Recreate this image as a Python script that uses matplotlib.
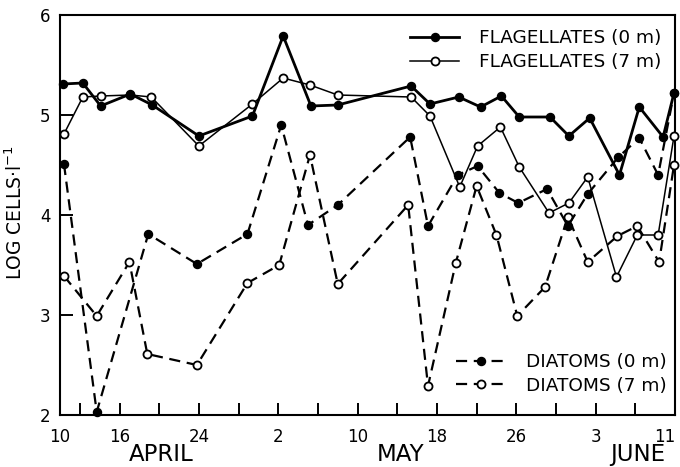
import matplotlib
matplotlib.use("Agg")
import matplotlib.pyplot as plt
from matplotlib.ticker import FixedLocator, FixedFormatter

plt.rcParams['font.family'] = ['DejaVu Sans']

# x = days after April 10
flag0_x = [0.3, 2.3, 4.1, 7.1, 9.3, 14.0, 19.4, 22.5, 25.3, 28.0, 35.4, 37.3, 40.2,
           42.4, 44.5, 46.3, 49.4, 51.3, 53.4, 56.4, 58.4, 60.8, 61.9]
flag0_y = [5.31, 5.32, 5.09, 5.21, 5.10, 4.79, 4.99, 5.79, 5.09, 5.10, 5.29, 5.11, 5.18,
           5.08, 5.19, 4.98, 4.98, 4.79, 4.97, 4.40, 5.08, 4.78, 5.22]

flag7_x = [0.4, 2.3, 4.1, 7.1, 9.2, 14.0, 19.4, 22.5, 25.2, 28.0, 35.4, 37.3, 40.3,
           42.1, 44.4, 46.3, 49.3, 51.3, 53.2, 56.1, 58.2, 60.3, 61.9]
flag7_y = [4.81, 5.18, 5.19, 5.20, 5.18, 4.69, 5.11, 5.37, 5.30, 5.20, 5.18, 4.99, 4.28,
           4.69, 4.88, 4.48, 4.02, 4.12, 4.38, 3.38, 3.80, 3.80, 4.79]

diat0_x = [0.4, 3.7, 8.9, 13.8, 18.9, 22.3, 25.0, 28.0, 35.3, 37.1, 40.1, 42.1, 44.3,
           46.2, 49.1, 51.2, 53.2, 56.3, 58.4, 60.3, 61.9]
diat0_y = [4.51, 2.03, 3.81, 3.51, 3.81, 4.90, 3.90, 4.10, 4.78, 3.89, 4.40, 4.49, 4.22,
           4.12, 4.26, 3.89, 4.21, 4.58, 4.77, 4.40, 5.22]

diat7_x = [0.4, 3.7, 7.0, 8.8, 13.8, 18.9, 22.1, 25.2, 28.0, 35.1, 37.1, 39.9, 42.0,
           44.0, 46.1, 48.9, 51.2, 53.2, 56.2, 58.2, 60.4, 61.9]
diat7_y = [3.39, 2.99, 3.53, 2.61, 2.50, 3.32, 3.50, 4.60, 3.31, 4.10, 2.29, 3.52, 4.29,
           3.80, 2.99, 3.28, 3.98, 3.53, 3.79, 3.89, 3.53, 4.50]

major_ticks = [0, 6, 14, 22, 30, 38, 46, 54, 62]
major_labels = ["10", "16", "24", "2", "10", "18", "26", "3", "11"]
minor_ticks = [2, 10, 18, 26, 34, 42, 50, 58]
months = ["APRIL", "MAY", "JUNE"]
month_pos = [10.2, 34.3, 58.2]
y_ticks = [2, 3, 4, 5, 6]

fig = plt.figure(figsize=(6.8, 4.67), dpi=100)
ax = fig.add_axes([60/680, 52/467, 615/680, 400/467])

ms = 5.8
l1, = ax.plot(flag0_x, flag0_y, '-', color='black', lw=2.0, marker='o', ms=ms,
              mfc='black', mec='black', label='FLAGELLATES (0 m)', clip_on=False, zorder=4)
l2, = ax.plot(flag7_x, flag7_y, '-', color='black', lw=1.1, marker='o', ms=ms,
              mfc='white', mec='black', mew=1.3, label='FLAGELLATES (7 m)', clip_on=False, zorder=3)
l3, = ax.plot(diat0_x, diat0_y, color='black', lw=1.6, ls=(0, (5, 3)), marker='o', ms=ms,
              mfc='black', mec='black', label='DIATOMS (0 m)', clip_on=False, zorder=4)
l4, = ax.plot(diat7_x, diat7_y, color='black', lw=1.6, ls=(0, (5, 3)), marker='o', ms=ms,
              mfc='white', mec='black', mew=1.3, label='DIATOMS (7 m)', clip_on=False, zorder=3)

ax.set_xlim(0, 62)
ax.set_ylim(2, 6)
ax.xaxis.set_major_locator(FixedLocator(major_ticks))
ax.xaxis.set_major_formatter(FixedFormatter(major_labels))
ax.xaxis.set_minor_locator(FixedLocator(minor_ticks))
ax.set_yticks(y_ticks)
ax.set_yticklabels([str(v) for v in y_ticks])

ax.tick_params(axis='x', which='both', direction='in', length=9, width=1.4,
               pad=9, labelsize=12)
ax.tick_params(axis='y', which='major', direction='in', length=9, width=1.4,
               pad=7, labelsize=12)
# keep the last date label inside the figure
ax.get_xticklabels()[-1].set_horizontalalignment('right')
for s in ax.spines.values():
    s.set_linewidth(1.5)

for name, pos in zip(months, month_pos):
    ax.text(pos, -0.098, name, transform=ax.get_xaxis_transform(), ha='center',
            va='center', fontsize=16.5)

ax.set_ylabel("LOG CELLS·l$^{-1}$", fontsize=13.5)
ax.yaxis.set_label_coords(-(60-26)/615, (415-213)/400)

leg1 = ax.legend(handles=[l1, l2], loc='center', bbox_to_anchor=(0.774, 0.912),
                 frameon=False, fontsize=13.3, handlelength=2.65, handletextpad=1.1,
                 labelspacing=0.3, borderpad=0, borderaxespad=0)
ax.add_artist(leg1)
leg2 = ax.legend(handles=[l3, l4], loc='center', bbox_to_anchor=(0.815, 0.1025),
                 frameon=False, fontsize=13.3, handlelength=2.7, handletextpad=1.1,
                 labelspacing=0.28, borderpad=0, borderaxespad=0)

fig.savefig("out.png", dpi=100)
